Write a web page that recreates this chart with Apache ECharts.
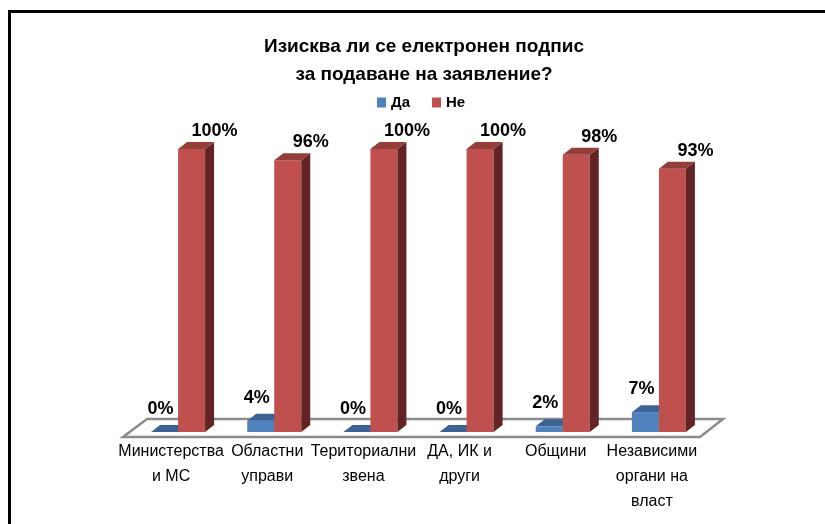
<!DOCTYPE html>
<html lang="bg">
<head>
<meta charset="UTF-8" />
<script src="https://cdn.jsdelivr.net/npm/echarts@6/dist/echarts.min.js"></script>
<title>Електронен подпис</title>
<style>
  html, body { margin: 0; padding: 0; background: #fff; }
  #main { width: 825px; height: 524px; }
</style>
</head>
<body>
<div id="main"></div>
<script type="text/javascript">
const categories = ['Министерства\nи МС', 'Областни\nуправи', 'Териториални\nзвена', 'ДА, ИК и\nдруги', 'Общини', 'Независими\nоргани на\nвласт'];
const yesValues = [0, 4, 0, 0, 2, 7];
const noValues = [100, 96, 100, 100, 98, 93];
const seriesNames = ['Да', 'Не'];

const FONT = '"Liberation Sans", Arial, sans-serif';
const barW = 27, dx = 9, dy = -7;

// 3D-ish bar: front face, top face, right side, label
const bar3d = (offset, colors, labelDx, labelDy) => (params, api) => {
  const i = api.value(0), v = api.value(1);
  const base = api.coord([i, 0]);
  const top = api.coord([i, v]);
  const x0 = base[0] + offset, x1 = x0 + barW;
  const yb = base[1], yt = top[1];
  return {
    type: 'group',
    children: [
      { type: 'rect', shape: { x: x0, y: yt, width: barW, height: yb - yt }, style: { fill: colors[0] } },
      { type: 'polygon', shape: { points: [[x1, yt], [x1 + dx, yt + dy], [x1 + dx, yb + dy], [x1, yb]] }, style: { fill: colors[2] } },
      { type: 'polygon', shape: { points: [[x0, yt], [x1, yt], [x1 + dx, yt + dy], [x0 + dx, yt + dy]] }, style: { fill: colors[1] } },
      { type: 'text', style: { text: v + '%', x: x0 + barW / 2 + labelDx, y: yt + labelDy, align: 'center', verticalAlign: 'middle', font: 'bold 18px ' + FONT, fill: '#000' } },
    ],
  };
};

const floor = (params, api) => {
  const cs = params.coordSys;
  const yf = cs.y + cs.height + 5, yk = cs.y + cs.height - 13;
  return {
    type: 'polygon',
    shape: { points: [[cs.x, yf], [cs.x + cs.width, yf], [cs.x + cs.width + 23, yk], [cs.x + 24, yk]] },
    style: { fill: '#fff', stroke: '#8c8c8c', lineWidth: 2.5 },
    z2: -1,
  };
};

const chart = echarts.init(document.getElementById('main'));
chart.setOption({
  animation: false,
  title: {
    text: 'Изисква ли се електронен подпис\nза подаване на заявление?',
    left: 424,
    top: 33,
    padding: 0,
    textAlign: 'center',
    textStyle: { fontFamily: FONT, fontWeight: 'bold', fontSize: 19, lineHeight: 28, color: '#000' },
  },
  legend: {
    data: seriesNames,
    left: 377,
    top: 95,
    padding: 0,
    itemWidth: 9,
    itemHeight: 10,
    itemGap: 22,
    icon: 'rect',
    textStyle: { fontFamily: FONT, fontWeight: 'bold', fontSize: 15, color: '#000' },
  },
  graphic: [{
    type: 'polyline',
    shape: { points: [[9.5, 524], [9.5, 11.5], [825, 11.5]] },
    style: { stroke: '#000', lineWidth: 3, fill: null },
  }],
  grid: { left: 123, right: 125, top: 149, bottom: 92 },
  xAxis: {
    type: 'category',
    data: categories,
    axisLine: { show: false },
    axisTick: { show: false },
    axisLabel: { interval: 0, margin: 7, color: '#000', fontFamily: FONT, fontSize: 16, lineHeight: 25 },
  },
  yAxis: { type: 'value', min: 0, max: 100, show: false },
  series: [
    { name: 'floor', type: 'custom', renderItem: floor, data: [0], silent: true, z: 1 },
    { name: seriesNames[0], type: 'custom', itemStyle: { color: '#4F81BD' }, renderItem: bar3d(-20, ['#4F81BD', '#3B6494', '#2F4F75'], -4, -23), data: yesValues.map((v, i) => [i, v]), z: 2 },
    { name: seriesNames[1], type: 'custom', itemStyle: { color: '#C0504D' }, renderItem: bar3d(7, ['#C0504D', '#943E3C', '#632523'], 23, -18), data: noValues.map((v, i) => [i, v]), z: 3 },
  ],
});
</script>
</body>
</html>
